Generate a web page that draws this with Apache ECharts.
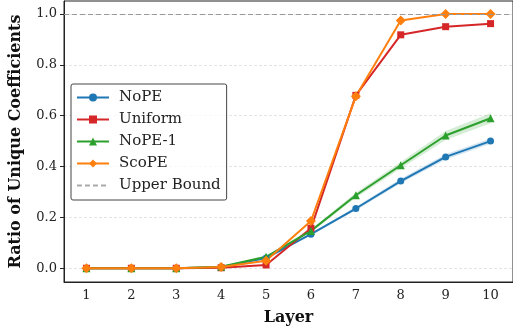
<!DOCTYPE html>
<html><head><meta charset="utf-8">
<script src="https://cdn.jsdelivr.net/npm/echarts@6/dist/echarts.min.js"></script>
<style>html,body{margin:0;padding:0;background:#fff}#c{width:513px;height:331px}</style>
</head><body><div id="c"></div>
<script>
const layers = ['1','2','3','4','5','6','7','8','9','10'];
const nope    = [0, 0, 0, 0.005, 0.040, 0.134, 0.235, 0.343, 0.438, 0.500];
const uniform = [0, 0, 0, 0.002, 0.013, 0.157, 0.680, 0.918, 0.950, 0.962];
const nope1   = [0, 0, 0, 0.006, 0.045, 0.147, 0.287, 0.405, 0.522, 0.590];
const scope   = [0, 0, 0, 0.005, 0.030, 0.186, 0.676, 0.974, 1.000, 1.000];
const nopeStd  = [0, 0, 0, 0.001, 0.003, 0.004, 0.007, 0.009, 0.010, 0.010];
const nope1Std = [0, 0, 0, 0.001, 0.004, 0.006, 0.010, 0.013, 0.018, 0.020];
const upperBound = 1.0;
const yTicks = [0, 0.2, 0.4, 0.6, 0.8, 1.0];

const FONT = 'DejaVu Serif';
const C = {blue:'#1f77b4', red:'#d62728', green:'#2ca02c', orange:'#ff7f0e'};

function band(name, mean, std, color) {
  const lower = mean.map((m,i)=>m-std[i]);
  const width = std.map(s=>2*s);
  return [
    {type:'line', name:name+'_lo', data:lower, stack:name+'band', symbol:'none', lineStyle:{opacity:0}, silent:true, z:1},
    {type:'line', name:name+'_band', data:width, stack:name+'band', symbol:'none', lineStyle:{opacity:0}, areaStyle:{color:color, opacity:0.2}, silent:true, z:1}
  ];
}
function lineSeries(name, data, color, symbol, size) {
  return {type:'line', name, data, symbol, symbolSize:size, itemStyle:{color}, lineStyle:{color, width:2}, z:3};
}

const chart = echarts.init(document.getElementById('c'), null, {renderer:'canvas'});
chart.setOption({
  animation:false,
  grid:{left:63, top:1, width:451, bottom:48, show:true, borderColor:'#222', borderWidth:1},
  legend:{
    data:['NoPE','Uniform','NoPE-1','ScoPE','Upper Bound'],
    orient:'vertical', left:71, top:84, itemWidth:32, itemHeight:10, itemGap:7,
    padding:[6,6,7,5], borderColor:'#444', borderWidth:1, borderRadius:2,
    backgroundColor:'rgba(255,255,255,0.8)',
    textStyle:{fontFamily:FONT, fontSize:15, color:'#222', lineHeight:15, padding:[0,0,0,5]}
  },
  xAxis:{
    type:'category', data:layers, boundaryGap:true,
    name:'Layer', nameLocation:'middle', nameGap:28,
    nameTextStyle:{fontFamily:FONT, fontSize:16, fontWeight:'bold', color:'#111'},
    axisLine:{onZero:false, lineStyle:{color:'#222', width:1}},
    axisTick:{alignWithLabel:true, length:4, lineStyle:{color:'#222'}},
    axisLabel:{fontFamily:FONT, fontSize:13, color:'#222', margin:7},
    splitLine:{show:false}
  },
  yAxis:{
    type:'value', min:-0.054, max:1.051,
    name:'Ratio of Unique Coefficients', nameLocation:'middle', nameGap:40,
    nameTextStyle:{fontFamily:FONT, fontSize:16, fontWeight:'bold', color:'#111'},
    axisLine:{show:true, lineStyle:{color:'#222', width:1}},
    axisTick:{show:true, length:4, customValues:yTicks, lineStyle:{color:'#222'}},
    axisLabel:{fontFamily:FONT, fontSize:13, color:'#222', margin:7, customValues:yTicks,
      formatter:v=>v.toFixed(1)},
    splitLine:{show:true, lineStyle:{color:'#ddd', type:[3,2], width:0.8}}
  },
  series:[
    ...band('NoPE', nope, nopeStd, C.blue),
    ...band('NoPE-1', nope1, nope1Std, C.green),
    {type:'line', name:'Upper Bound', data:[], symbol:'none',
      lineStyle:{color:'#aaa', type:[5,3], width:1.2}, itemStyle:{color:'rgba(0,0,0,0)'},
      markLine:{silent:true, symbol:'none', label:{show:false},
        lineStyle:{color:'#999', type:[5,3], width:1.2}, data:[{yAxis:upperBound}]}},
    lineSeries('NoPE', nope, C.blue, 'circle', 7),
    lineSeries('Uniform', uniform, C.red, 'rect', 7),
    lineSeries('NoPE-1', nope1, C.green, 'triangle', 8),
    lineSeries('ScoPE', scope, C.orange, 'diamond', 10)
  ]
});
</script></body></html>
